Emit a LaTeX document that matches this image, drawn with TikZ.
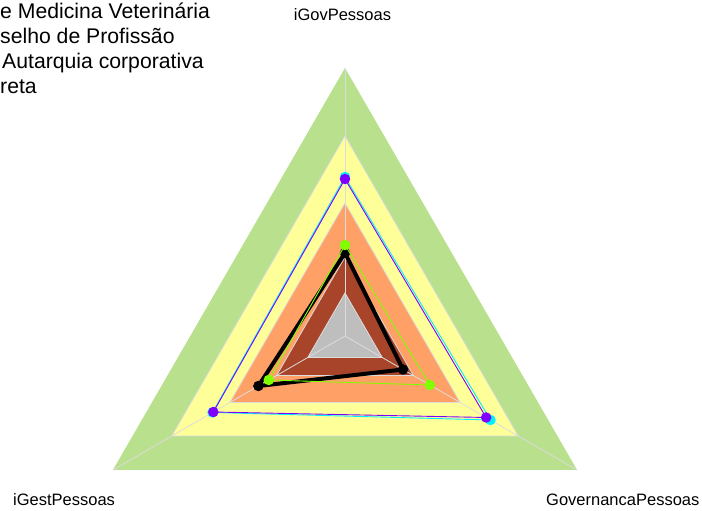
\documentclass[tikz,border=0pt]{standalone}
\usepackage{fontspec}
\setmainfont{Liberation Sans}
\definecolor{bandgreen}{RGB}{185,224,141}
\definecolor{bandyellow}{RGB}{255,255,153}
\definecolor{bandorange}{RGB}{255,160,102}
\definecolor{bandbrown}{RGB}{168,68,42}
\definecolor{bandgray}{RGB}{190,190,190}
\definecolor{gridgray}{RGB}{220,220,220}
\definecolor{scyan}{RGB}{0,240,255}
\definecolor{spurple}{RGB}{128,0,255}
\definecolor{sgreen}{RGB}{128,255,0}
\tikzset{
  band/.style={draw=gridgray, line width=0.8},
  axisline/.style={draw=gridgray, line width=0.8},
  serie/.style={line width=0.9, line join=round},
  dot/.style={circle, inner sep=0, minimum size=10.5},
  lbl/.style={inner sep=0, anchor=base west, font=\fontsize{16.5}{20}\selectfont},
  ttl/.style={inner sep=0, anchor=base west, font=\fontsize{21.2}{25}\selectfont},
}
\begin{document}
\begin{tikzpicture}[x=1pt,y=1pt]
\useasboundingbox (-345,-175) rectangle (357,336);
\coordinate (c) at (0,0);
% bands
\foreach \r/\col in {268/bandgreen,200/bandyellow,133/bandorange,79/bandbrown,43/bandgray}{
  \fill[\col] (90:\r) -- (210:\r) -- (330:\r) -- cycle;
}
\foreach \r in {43,79,133,200}{
  \draw[band] (90:\r) -- (210:\r) -- (330:\r) -- cycle;
}
% axes
\coordinate (ax1) at (90:268);
\coordinate (ax2) at (210:268);
\coordinate (ax3) at (330:268);
\draw[axisline] (c) -- (ax1);
\draw[axisline] (c) -- (ax2);
\draw[axisline] (c) -- (ax3);
% series cyan
\coordinate (c1) at (90:159);
\coordinate (c2) at (210:153);
\coordinate (c3) at (330:168);
\draw[serie, scyan] (c1) -- (c2) -- (c3) -- cycle;
\foreach \p in {c1,c2,c3} \node[dot, fill=scyan] at (\p) {};
% series purple
\coordinate (p1) at (90:157);
\coordinate (p2) at (210:152);
\coordinate (p3) at (330:163);
\draw[serie, spurple] (p1) -- (p2) -- (p3) -- cycle;
\foreach \p in {p1,p2,p3} \node[dot, fill=spurple] at (\p) {};
% series black
\coordinate (k1) at (90:83);
\coordinate (k2) at (210:100);
\coordinate (k3) at (330:67);
\draw[line width=4, line join=round, black] (k1) -- (k2) -- (k3) -- cycle;
\foreach \p in {k1,k2,k3} \node[dot, fill=black] at (\p) {};
% series green
\coordinate (g1) at (90:91);
\coordinate (g2) at (210:88);
\coordinate (g3) at (330:98);
\draw[serie, sgreen] (g1) -- (g2) -- (g3) -- cycle;
\foreach \p in {g1,g2,g3} \node[dot, fill=sgreen] at (\p) {};
% axis labels
\node[lbl, anchor=base] (l1) at (-2.5,315) {iGovPessoas};
\node[lbl] (l2) at (-332,-170) {iGestPessoas};
\node[lbl] (l3) at (201,-170) {GovernancaPessoas};
% title (clipped at left)
\node[ttl] (t1) at (-345,317) {e Medicina Veterinária};
\node[ttl] (t2) at (-345,292) {selho de Profissão};
\node[ttl] (t3) at (-343,267) {Autarquia corporativa};
\node[ttl] (t4) at (-345,242) {reta};
\end{tikzpicture}
\end{document}
